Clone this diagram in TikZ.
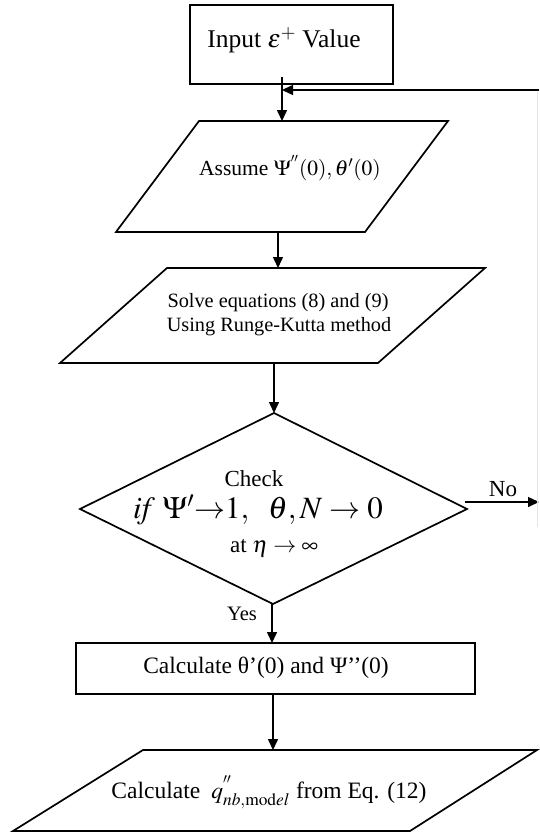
\documentclass[tikz,border=0pt]{standalone}
\usepackage{mathptmx}
\usepackage[no-math]{fontspec}
\setmainfont{Liberation Serif}
\usepackage{tikz}
\usetikzlibrary{arrows.meta,calc}

\tikzset{
  shapeline/.style={draw=black, line width=1.7pt, line join=miter},
  flowarrow/.style={line width=1.5pt, -{Triangle[length=11pt,width=10pt]}},
}
\newcommand{\fsz}[1]{\fontsize{#1}{#1}\selectfont}

\begin{document}
\begin{tikzpicture}[x=1pt, y=-1pt, every node/.style={inner sep=0pt, font=\fsz{22}}]
  \useasboundingbox (0,0) rectangle (539,835);
  % Shapes
  \draw[shapeline] (190,5) rectangle (393,84);
  \draw[shapeline] (199,121) -- (448,121) -- (365,232) -- (116,232) -- cycle;
  \draw[shapeline] (167,268) -- (485,268) -- (378,363) -- (60,363) -- cycle;
  \draw[shapeline] (274,413) -- (467,509) -- (273,604) -- (80,509) -- cycle;
  \draw[shapeline] (76,643) rectangle (475,694);
  \draw[shapeline] (143,750) -- (537,750) -- (410,831) -- (13,831) -- cycle;
  % Texts
  \node[font=\fsz{25.5}] (input) at (284,40) {Input $\epsilon^{+}$ Value};
  \node[font=\fsz{21.5}] (assume) at (290,168) {Assume $\Psi^{''}(0), \theta'(0)$};
  \node[font=\fsz{20.3}] (solve1) at (278,303) {Solve equations (8) and (9)};
  \node[font=\fsz{20.3}] (solve2) at (279,327) {Using Runge-Kutta method};
  \node[font=\fsz{23}] (check1) at (254,479) {Check};
  \node[font=\fsz{31}] (check2) at (258,510) {$\mathit{if}\ \Psi'{\to}1,\ \ \theta,N\to 0$};
  \node[font=\fsz{23}] (check3) at (274,548) {at $\eta\to\infty$};
  \node[font=\fsz{23.5}] (calc) at (266,668) {Calculate θ’(0) and Ψ’’(0)};
  \node[font=\fsz{23.5}] (model) at (269,792) {Calculate $\;q^{''}_{nb,\mathrm{mod}el}$ from Eq. (12)};
  \node[font=\fsz{23}] (no) at (503,489) {No};
  \node[font=\fsz{20.5}] (yes) at (242,614) {Yes};
  % Connection points
  \coordinate (inbot) at (282,77);
  \coordinate (astop) at (282,121);
  \coordinate (asbot) at (278,232);
  \coordinate (sotop) at (278,268);
  \coordinate (sobot) at (274,363);
  \coordinate (chtop) at (274,413);
  \coordinate (chbot) at (272,604);
  \coordinate (chright) at (465,502);
  \coordinate (catop) at (272,643);
  \coordinate (cabot) at (273,694);
  \coordinate (motop) at (273,750);
  \coordinate (loopin) at (282,90);
  \coordinate (loopend) at (539,90);
  \coordinate (noend) at (539,502);
  % Connectors
  \draw[flowarrow] (inbot) -- (astop);
  \draw[flowarrow] (loopend) -- (loopin);
  \draw[flowarrow] (asbot) -- (sotop);
  \draw[flowarrow] (sobot) -- (chtop);
  \draw[flowarrow] (chright) -- (noend);
  \draw[flowarrow] (chbot) -- (catop);
  \draw[flowarrow] (cabot) -- (motop);
  \draw[gray!20, line width=1pt] (537.5,92) -- (537.5,527);
\end{tikzpicture}
\end{document}
